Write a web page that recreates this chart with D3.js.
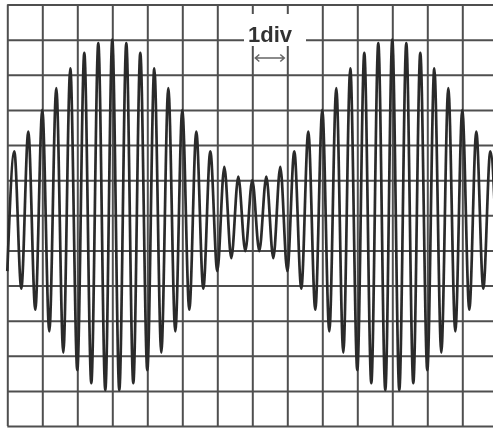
<!DOCTYPE html>
<html>
<head>
<meta charset="utf-8">
<script src="https://cdn.jsdelivr.net/npm/d3@7"></script>
<style>
  html, body { margin: 0; padding: 0; background: #ffffff; }
  svg { display: block; }
</style>
</head>
<body>
<div id="chart"></div>
<script>
// ---- data ----
// horizontal grid: divisions 0..14 (only 0..13 visible), vertical: -6..6 divisions
const xDivTicks = [0,1,2,3,4,5,6,7,8,9,10,11,12,13,14];
const yDivTicks = [-6,-5,-4,-3,-2,-1,0,1,2,3,4,5,6];
// positions (in divisions) of successive carrier extrema
const sampleDiv = [
  0.0,0.2,0.4,0.6,0.8,1.0,1.2,1.4,1.6,1.8,
  2.0,2.2,2.4,2.6,2.8,3.0,3.2,3.4,3.6,3.8,
  4.0,4.2,4.4,4.6,4.8,5.0,5.2,5.4,5.6,5.8,
  6.0,6.2,6.4,6.6,6.8,7.0,7.2,7.4,7.6,7.8,
  8.0,8.2,8.4,8.6,8.8,9.0,9.2,9.4,9.6,9.8,
  10.0,10.2,10.4,10.6,10.8,11.0,11.2,11.4,11.6,11.8,
  12.0,12.2,12.4,12.6,12.8,13.0,13.2,13.4,13.6,13.8,14.0
];
// signal value at each extremum (divisions)
const voltDiv = [
  -1.59, 1.82,-2.09, 2.38,-2.69, 3.00,-3.31, 3.62,-3.91, 4.18,
  -4.41, 4.62,-4.78, 4.90,-4.98, 5.00,-4.98, 4.90,-4.78, 4.62,
  -4.41, 4.18,-3.91, 3.62,-3.31, 3.00,-2.69, 2.38,-2.09, 1.82,
  -1.59, 1.38,-1.22, 1.10,-1.02, 1.00,-1.02, 1.10,-1.22, 1.38,
  -1.59, 1.82,-2.09, 2.38,-2.69, 3.00,-3.31, 3.62,-3.91, 4.18,
  -4.41, 4.62,-4.78, 4.90,-4.98, 5.00,-4.98, 4.90,-4.78, 4.62,
  -4.41, 4.18,-3.91, 3.62,-3.31, 3.00,-2.69, 2.38,-2.09, 1.82,-1.59
];
const scaleLabel = "1div";

// ---- drawing ----
const W = 493, H = 430;
const svg = d3.select("#chart").append("svg")
  .attr("width", W).attr("height", H);

const defs = svg.append("defs");
defs.append("filter").attr("id", "soft")
  .attr("x", "-5%").attr("y", "-5%").attr("width", "110%").attr("height", "110%")
  .append("feGaussianBlur").attr("stdDeviation", 0.6);
defs.append("clipPath").attr("id", "clip")
  .append("rect").attr("x", 0).attr("y", 0).attr("width", W).attr("height", H);

const x = d3.scaleLinear().domain([0, 14]).range([7.3, 497.3]);
const y = d3.scaleLinear().domain([-6, 6]).range([426, 4.5]);

const root = svg.append("g").attr("filter", "url(#soft)").attr("clip-path", "url(#clip)");

// grid via axes
const gridColor = "#505050";
const gx = root.append("g")
  .attr("transform", `translate(0,${y(-6)})`)
  .call(d3.axisBottom(x).tickValues(xDivTicks).tickSize(-(y(-6) - y(6))).tickFormat(""));
gx.select(".domain").remove();
gx.selectAll(".tick line").attr("stroke", gridColor).attr("stroke-width", 2);

const gy = root.append("g")
  .attr("transform", `translate(${x(0)},0)`)
  .call(d3.axisLeft(y).tickValues(yDivTicks).tickSize(-(x(14) - x(0))).tickFormat(""));
gy.select(".domain").remove();
gy.selectAll(".tick line").attr("stroke", gridColor).attr("stroke-width", 2);

// label background + label
const lbl = root.append("g");
lbl.append("rect")
  .attr("x", 244).attr("y", 14).attr("width", 62).attr("height", 32)
  .attr("fill", "#ffffff");
lbl.append("text")
  .attr("x", 270).attr("y", 41.5)
  .attr("text-anchor", "middle")
  .attr("font-family", "'Liberation Sans', Arial, sans-serif")
  .attr("font-weight", "bold")
  .attr("font-size", 22)
  .attr("fill", "#333333")
  .text(scaleLabel);

// 1-division arrow
const ay = 58;
const ax0 = x(7) + 3, ax1 = x(8) - 3;
lbl.append("path")
  .attr("d", `M${ax0},${ay}H${ax1}M${ax0 + 4},${ay - 3.5}L${ax0},${ay}L${ax0 + 4},${ay + 3.5}M${ax1 - 4},${ay - 3.5}L${ax1},${ay}L${ax1 - 4},${ay + 3.5}`)
  .attr("fill", "none").attr("stroke", "#666").attr("stroke-width", 1.5);

// waveform
const pts = sampleDiv.map((t, i) => [t, voltDiv[i]]);
const line = d3.line().x(d => x(d[0])).y(d => y(d[1])).curve(d3.curveMonotoneX);
root.append("path")
  .datum(pts)
  .attr("d", line)
  .attr("fill", "none")
  .attr("stroke", "#2b2b2b")
  .attr("stroke-width", 2.7)
  .attr("stroke-linejoin", "round");
</script>
</body>
</html>
